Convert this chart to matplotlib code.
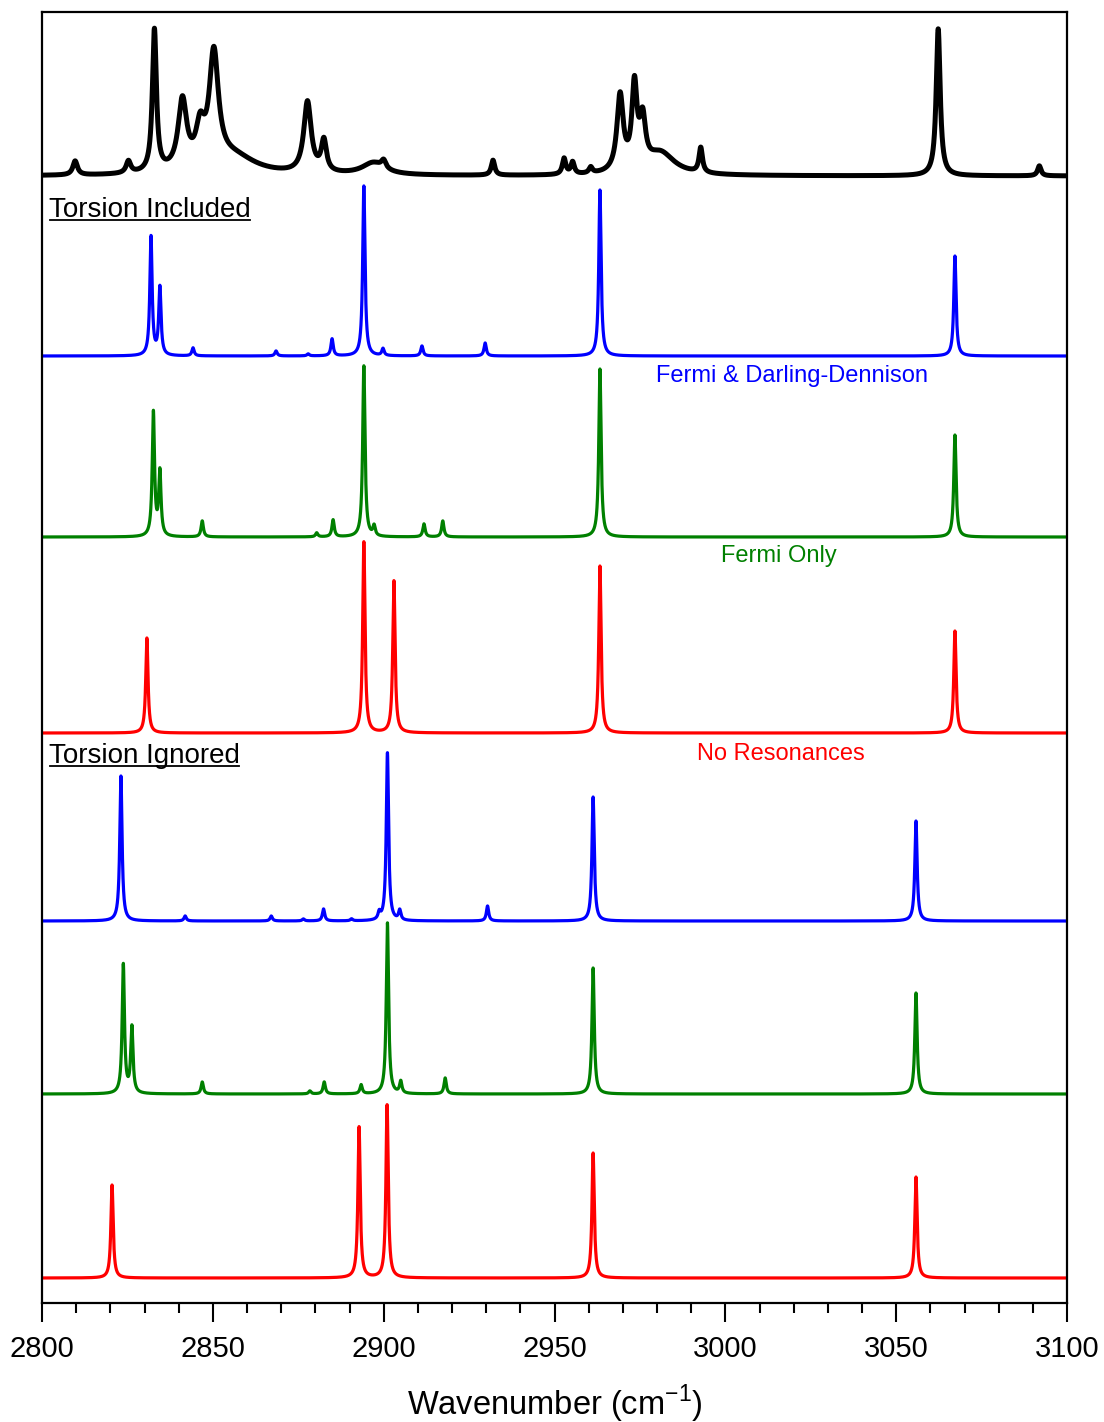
import numpy as np
import matplotlib
matplotlib.use("Agg")
import matplotlib.pyplot as plt
from matplotlib.lines import Line2D

plt.rcParams["font.family"] = ["Liberation Sans", "DejaVu Sans"]
plt.rcParams["mathtext.fontset"] = "custom"
plt.rcParams["mathtext.rm"] = "Liberation Sans"

# peak tables: position (cm-1), height (arb.), half width (cm-1)
exp_pos = [2809.7, 2825.3, 2832.9, 2841.1, 2846.3, 2850.3, 2856.0, 2877.7, 2882.5,
           2897.0, 2900.0, 2932.0, 2952.8, 2955.3, 2960.6, 2969.2, 2973.4, 2975.8,
           2981.0, 2992.8, 3062.3, 3091.9]
exp_hgt = [14, 12, 142, 69, 36, 111, 18, 71, 31,
           12, 8, 15, 16, 12, 6, 76, 82, 46,
           22, 25, 147, 10]
exp_wid = [0.8, 0.8, 0.7, 1.5, 1.5, 1.6, 8.0, 1.3, 0.9,
           4.0, 0.8, 0.6, 0.6, 0.6, 0.6, 1.1, 0.9, 1.0,
           5.0, 0.6, 0.7, 0.6]

# torsion included
fdd_inc_pos = [2831.9, 2834.5, 2844.2, 2868.5, 2877.9, 2884.9, 2894.2, 2899.8, 2911.2, 2929.7, 2963.3, 3067.2]
fdd_inc_hgt = [119, 68, 8, 5, 2, 17, 170, 7, 10, 13, 166, 100]
fo_inc_pos = [2832.6, 2834.5, 2846.9, 2880.4, 2885.2, 2894.2, 2897.2, 2911.8, 2917.3, 2963.3, 3067.2]
fo_inc_hgt = [124, 64, 16, 4, 17, 171, 10, 13, 16, 168, 102]
nr_inc_pos = [2830.7, 2894.2, 2903.0, 2963.3, 3067.2]
nr_inc_hgt = [95, 191, 152, 167, 102]

# torsion ignored
fdd_ign_pos = [2823.1, 2841.9, 2867.1, 2876.5, 2882.4, 2890.6, 2898.7, 2901.1, 2904.7, 2930.4, 2961.3, 3055.8]
fdd_ign_hgt = [145, 5, 5, 2, 12, 2, 7, 168, 10, 15, 124, 100]
fo_ign_pos = [2823.8, 2826.3, 2846.9, 2878.4, 2882.6, 2893.4, 2901.1, 2905.0, 2918.0, 2961.3, 3055.8]
fo_ign_hgt = [129, 66, 12, 3, 12, 9, 171, 12, 16, 126, 101]
nr_ign_pos = [2820.5, 2892.8, 2901.0, 2961.3, 3055.8]
nr_ign_hgt = [93, 151, 173, 125, 101]

# vertical offsets of each trace
offsets = [1127, 947, 766, 570, 382, 209, 25]

x = np.linspace(2800, 3100, 30001)


def lorentz(pos, hgt, wid):
    y = np.zeros_like(x)
    for p, h, w in zip(pos, hgt, wid):
        y += h * w**2 / ((x - p) ** 2 + w**2)
    return y


gam = 0.4
traces = [
    (lorentz(exp_pos, exp_hgt, exp_wid), "black", 3.6),
    (lorentz(fdd_inc_pos, fdd_inc_hgt, [gam] * len(fdd_inc_pos)), "#0000ff", 2.3),
    (lorentz(fo_inc_pos, fo_inc_hgt, [gam] * len(fo_inc_pos)), "#008000", 2.3),
    (lorentz(nr_inc_pos, nr_inc_hgt, [gam] * len(nr_inc_pos)), "#ff0000", 2.3),
    (lorentz(fdd_ign_pos, fdd_ign_hgt, [gam] * len(fdd_ign_pos)), "#0000ff", 2.3),
    (lorentz(fo_ign_pos, fo_ign_hgt, [gam] * len(fo_ign_pos)), "#008000", 2.3),
    (lorentz(nr_ign_pos, nr_ign_hgt, [gam] * len(nr_ign_pos)), "#ff0000", 2.3),
]

fig = plt.figure(figsize=(11.04, 14.22), dpi=100)
ax = fig.add_axes([42 / 1104, 119 / 1422, 1025 / 1104, 1291 / 1422])

for (y, c, lw), off in zip(traces, offsets):
    ax.plot(x, y + off, color=c, lw=lw, solid_joinstyle="round")

ax.set_xlim(2800, 3100)
ax.set_ylim(0, 1291)
ax.set_yticks([])
ax.set_xticks(np.arange(2800, 3101, 50))
ax.set_xticks(np.arange(2800, 3101, 10), minor=True)
ax.tick_params(axis="x", which="major", direction="out", length=14, width=1.5, labelsize=21, pad=9)
ax.tick_params(axis="x", which="minor", direction="out", length=7, width=1.5)
for s in ax.spines.values():
    s.set_linewidth(1.6)
ax.set_xlabel("Wavenumber (cm$^{\\mathregular{-1}}$)", fontsize=23.5, labelpad=14)

# section headers (underlined)
headers = []
for txt, ypix in [("Torsion Included", 210), ("Torsion Ignored", 756)]:
    t = ax.text(7 / 1025, (1303 - ypix) / 1291, txt, transform=ax.transAxes,
                fontsize=20, ha="left", va="center")
    headers.append(t)

ax.text((792 - 42) / 1025, (1303 - 376) / 1291, "Fermi & Darling-Dennison", transform=ax.transAxes,
        fontsize=17, color="#0000ff", ha="center", va="center")
ax.text((779 - 42) / 1025, (1303 - 556) / 1291, "Fermi Only", transform=ax.transAxes,
        fontsize=17, color="#008000", ha="center", va="center")
ax.text((781 - 42) / 1025, (1303 - 754) / 1291, "No Resonances", transform=ax.transAxes,
        fontsize=17, color="#ff0000", ha="center", va="center")

fig.canvas.draw()
r = fig.canvas.get_renderer()
inv = ax.transAxes.inverted()
for t in headers:
    bb = t.get_window_extent(r)
    (x0, y0), (x1, y1) = inv.transform([[bb.x0, bb.y0], [bb.x1, bb.y0]])
    ax.add_line(Line2D([x0 + 0.001, x1 - 0.001], [y0 + 0.002, y0 + 0.002], transform=ax.transAxes,
                       color="black", lw=1.3))

fig.savefig("out.png", dpi=100)
